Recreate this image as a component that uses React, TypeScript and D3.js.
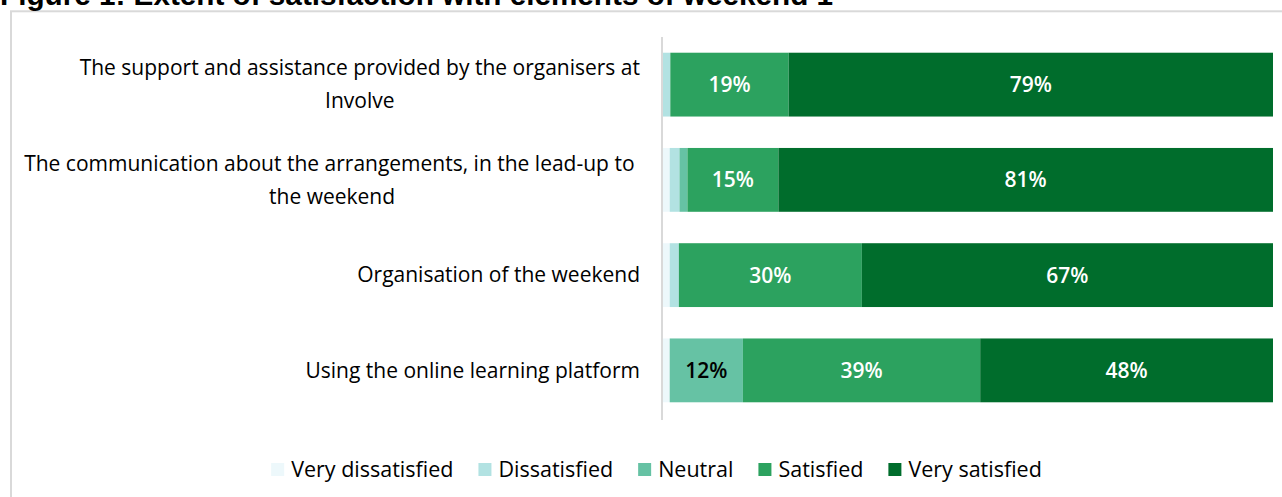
import React, { useEffect, useRef } from 'react';
import * as d3 from 'd3';

const title = 'Figure 1: Extent of satisfaction with elements of weekend 1';

const categories = [
	'The support and assistance provided by the organisers at\nInvolve',
	'The communication about the arrangements, in the lead-up to \nthe weekend',
	'Organisation of the weekend',
	'Using the online learning platform',
];

const levels = ['Very dissatisfied', 'Dissatisfied', 'Neutral', 'Satisfied', 'Very satisfied'];

const veryDissatisfied = [0, 1.1, 1.1, 1.1];
const dissatisfied = [1.2, 1.6, 1.5, 0];
const neutral = [0, 1.3, 0, 12.0];
const satisfied = [19.4, 14.9, 30.0, 38.9];
const verySatisfied = [79.4, 81.0, 67.4, 48.0];

const colors = ['#edf8fb', '#b2e2e2', '#66c2a4', '#2ca25f', '#006d2c'];
const labelInk = ['#000', '#000', '#000', '#fff', '#fff'];

const W = 1282;
const H = 497;
const FONT = '"Open Sans", sans-serif';

const draw = (node: SVGSVGElement) => {
	const svg = d3.select(node);
	svg.selectAll('*').remove();

	const series = [veryDissatisfied, dissatisfied, neutral, satisfied, verySatisfied];
	const rows = categories.map((c, i) => {
		const row: any = { category: c, index: i };
		levels.forEach((l, k) => { row[l] = series[k][i]; });
		return row;
	});

	const stacked = d3.stack<any>()
		.keys(levels)
		.offset(d3.stackOffsetExpand)(rows);

	const x = d3.scaleLinear().domain([0, 1]).range([663, 1273]);
	const y = d3.scaleBand<number>()
		.domain(d3.range(categories.length))
		.range([37, 418])
		.paddingInner(0.33)
		.paddingOuter(0.165);

	// frame
	svg.append('rect')
		.attr('x', 11).attr('y', 11.3)
		.attr('width', 1400).attr('height', 700)
		.attr('fill', 'none')
		.attr('stroke', '#d9d9d9')
		.attr('stroke-width', 2);

	svg.append('text')
		.attr('x', 0).attr('y', 5)
		.attr('font-family', '"Liberation Sans", Arial, sans-serif')
		.attr('font-weight', 'bold')
		.attr('font-size', 29.7)
		.text(title);

	// bars
	const layer = svg.append('g')
		.selectAll('g')
		.data(stacked)
		.join('g')
		.attr('fill', (d, k) => colors[k]);

	layer.selectAll('rect')
		.data((d) => d)
		.join('rect')
		.attr('x', (d) => x(d[0]))
		.attr('y', (d: any) => y(d.data.index)!)
		.attr('width', (d) => x(d[1]) - x(d[0]))
		.attr('height', y.bandwidth());

	// data labels
	stacked.forEach((s, k) => {
		svg.append('g')
			.selectAll('text')
			.data(s.filter((d: any) => d.data[levels[k]] >= 5))
			.join('text')
			.attr('x', (d) => (x(d[0]) + x(d[1])) / 2)
			.attr('y', (d: any) => y(d.data.index)! + y.bandwidth() / 2)
			.attr('dy', '0.36em')
			.attr('text-anchor', 'middle')
			.attr('font-family', FONT)
			.attr('font-weight', 600)
			.attr('font-size', 21)
			.attr('fill', labelInk[k])
			.text((d: any) => `${ Math.round(d.data[levels[k]]) }%`);
	});

	// axis line
	const axis = svg.append('g')
		.attr('transform', 'translate(662,0)')
		.call(d3.axisLeft(y).tickSize(0).tickFormat(() => ''));
	axis.select('.domain')
		.attr('stroke', '#d9d9d9')
		.attr('stroke-width', 2)
		.attr('d', 'M0,37V420');

	// category labels, wrapped lines centred in a right-aligned block
	const lineGap = 33;
	categories.forEach((c, i) => {
		const lines = c.split('\n');
		const g = svg.append('g')
			.attr('font-family', FONT)
			.attr('font-size', 21)
			.attr('fill', '#000');
		const cy = y(i)! + y.bandwidth() / 2;
		const texts = g.selectAll('text')
			.data(lines)
			.join('text')
			.attr('xml:space', 'preserve')
			.style('white-space', 'pre')
			.attr('y', (d, j) => cy + (j - (lines.length - 1) / 2) * lineGap)
			.attr('dy', '0.35em')
			.attr('text-anchor', 'middle')
			.text((d) => d);
		const widths = texts.nodes().map((n) => (n as SVGTextElement).getComputedTextLength());
		const block = d3.max(widths) || 0;
		texts.attr('x', 640 - block / 2);
	});

	// legend
	const legend = svg.append('g')
		.attr('font-family', FONT)
		.attr('font-size', 21.5);
	const box = 13;
	const gapIn = 7;
	const gapOut = 25;
	const items = legend.selectAll('g')
		.data(levels)
		.join('g');
	items.append('rect')
		.attr('y', 463)
		.attr('width', box)
		.attr('height', box)
		.attr('fill', (d, k) => colors[k]);
	items.append('text')
		.attr('x', box + gapIn)
		.attr('y', 469.5)
		.attr('dy', '0.35em')
		.text((d) => d);
	const itemW = items.nodes().map((n) =>
		box + gapIn + ((n as SVGGElement).querySelector('text') as SVGTextElement).getComputedTextLength());
	const total = d3.sum(itemW) + gapOut * (itemW.length - 1);
	let cursor = 656.5 - total / 2;
	items.attr('transform', (d, k) => {
		const t = `translate(${ cursor },0)`;
		cursor += itemW[k] + gapOut;
		return t;
	});
};

const App = () => {
	const ref = useRef<SVGSVGElement>(null);

	useEffect(() => {
		if (ref.current) {
			draw(ref.current);
		}
	}, []);

	return (
		<svg
			ref={ ref }
			width={ W }
			height={ H }
			style={ { position: 'absolute', left: 0, top: 0, background: '#fff' } }
		/>
	);
};

export default App;
